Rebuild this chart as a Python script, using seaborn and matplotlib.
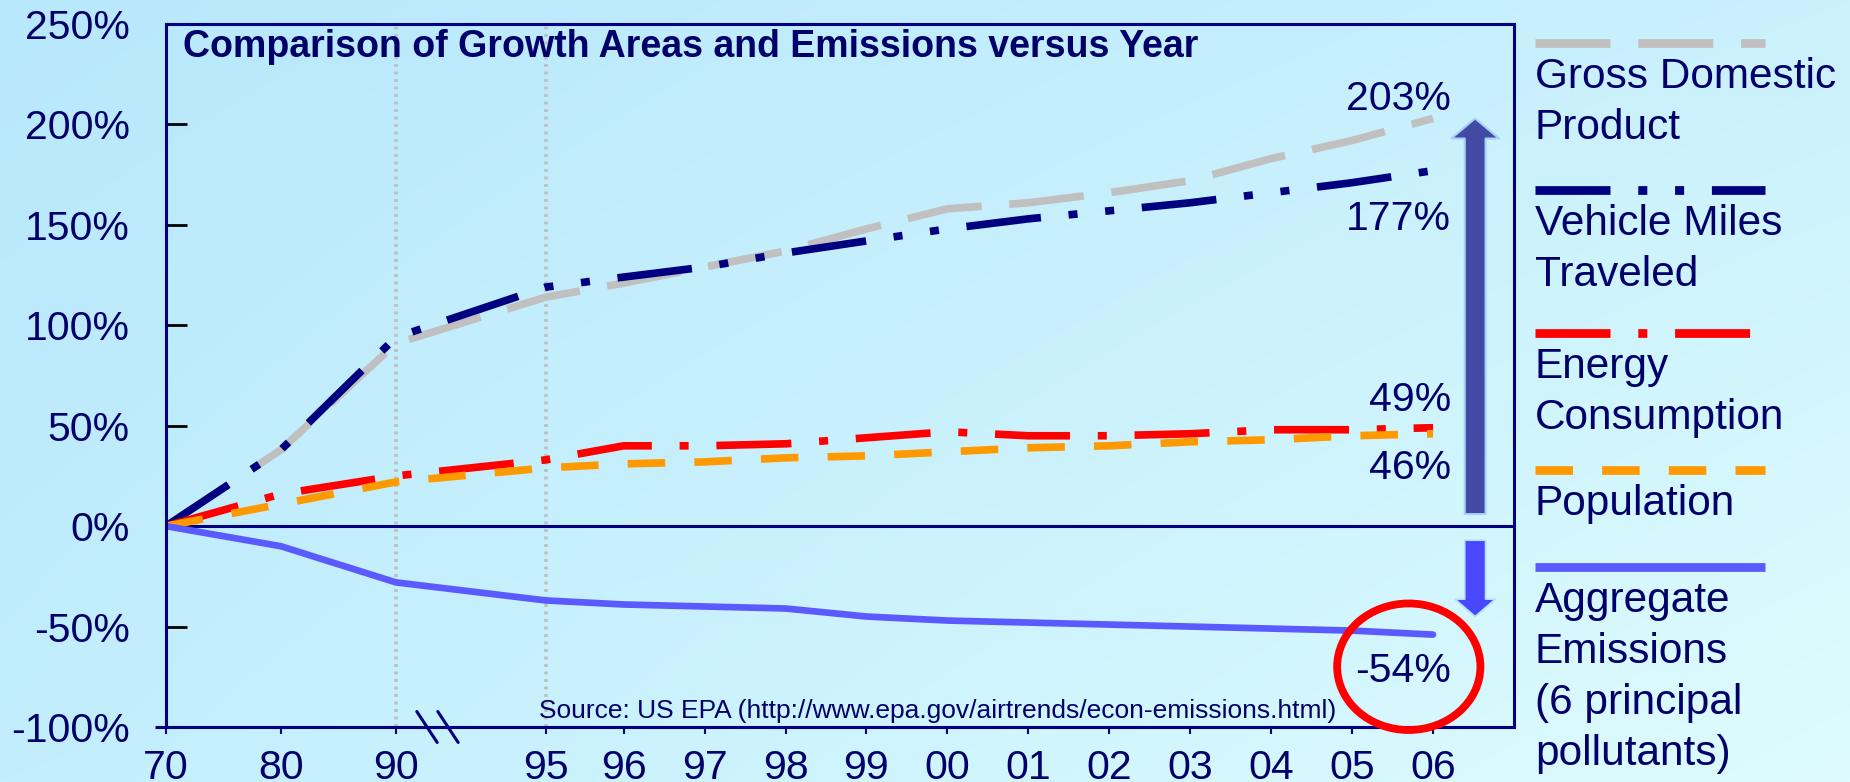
import numpy as np
import pandas as pd
import matplotlib
matplotlib.use("Agg")
import matplotlib.pyplot as plt
import seaborn as sns
from matplotlib.lines import Line2D
from matplotlib.patches import Ellipse, FancyArrowPatch, ArrowStyle
import matplotlib.transforms as mtransforms

# ---- data (percent change since 1970) ----
years = [1970, 1980, 1990, 1995, 1996, 1997, 1998, 1999, 2000,
         2001, 2002, 2003, 2004, 2005, 2006]
gdp = [0, 38, 91, 114, 121, 129, 137, 148, 158, 161, 166, 172, 183, 192, 203]
vmt = [0, 38, 94, 119, 124, 129, 136, 142, 148, 153, 157, 161, 166, 171, 177]
energy = [0, 16, 25, 33, 40, 40, 41, 44, 47, 45, 45, 46, 48, 48, 49]
population = [0, 11, 22, 29, 31, 32, 34, 35, 37, 39, 40, 42, 43, 45, 46]
emissions = [0, -10, -28, -37, -39, -40, -41, -45, -47, -48, -49, -50, -51, -52, -54]

series_names = ["Gross Domestic Product", "Vehicle Miles Traveled",
                "Energy Consumption", "Population", "Aggregate Emissions"]
legend_labels = [["Gross Domestic", "Product"],
                 ["Vehicle Miles", "Traveled"],
                 ["Energy", "Consumption"],
                 ["Population"],
                 ["Aggregate", "Emissions", "(6 principal", "pollutants)"]]
y_ticks = [-100, -50, 0, 50, 100, 150, 200, 250]
title = "Comparison of Growth Areas and Emissions versus Year"
source = "Source: US EPA (http://www.epa.gov/airtrends/econ-emissions.html)"

# ---- styles ----
navy = "#000080"
text_color = "#00006a"
colors = {series_names[0]: "#c0c0c0", series_names[1]: "#000080",
          series_names[2]: "#ff0000", series_names[3]: "#ff9900",
          series_names[4]: "#5a5aff"}
dashes = {series_names[0]: (54, 20),
          series_names[1]: (54, 20, 6.5, 20, 6.5, 20),
          series_names[2]: (54, 20, 6.5, 20),
          series_names[3]: (27, 21),
          series_names[4]: ""}

sns.set_style("white")
plt.rcParams["font.family"] = ["Liberation Sans", "DejaVu Sans"]
plt.rcParams["lines.scale_dashes"] = False

W, H = 1850, 782
fig = plt.figure(figsize=(W / 100, H / 100), dpi=100)

# soft diagonal background gradient
tl, tr = np.array([184, 232, 252]), np.array([202, 241, 252])
bl, br = np.array([194, 238, 253]), np.array([222, 252, 254])
gx = np.linspace(0, 1, 400)[None, :, None]
gy = np.linspace(0, 1, 200)[:, None, None]
grad = (tl * (1 - gx) * (1 - gy) + tr * gx * (1 - gy)
        + bl * (1 - gx) * gy + br * gx * gy) / 255.0
bg = fig.add_axes([0, 0, 1, 1], zorder=-10)
bg.imshow(grad, aspect="auto", extent=[0, 1, 0, 1], interpolation="bilinear")
bg.axis("off")

ax = fig.add_axes([166 / W, 1 - 727 / H, (1514 - 166) / W, (727 - 24) / H])
ax.patch.set_alpha(0)

# broken year axis: compressed 1970-1990, gap to 1995, then annual spacing
knot_years = np.array([1900, 1970, 1990, 1995, 1996, 2006, 2100], float)
knot_pos = np.array([-805, 0, 230, 380, 458, 1268, 8882], float)
ax.set_xscale("function",
              functions=(lambda v: np.interp(v, knot_years, knot_pos),
                         lambda p: np.interp(p, knot_pos, knot_years)))
ax.set_xlim(1970, 2007)
ax.set_ylim(-100, 250)

for yr in (1990, 1995):
    ax.axvline(yr, color="#c0c0c0", lw=2.6, linestyle=(0, (2.2, 3.2)), zorder=1)
ax.axhline(0, color=navy, lw=2.2, zorder=1.5)

df = pd.DataFrame({
    "year": years * 5,
    "series": sum([[n] * len(years) for n in series_names], []),
    "change": gdp + vmt + energy + population + emissions,
})
sns.lineplot(data=df, x="year", y="change", hue="series", style="series",
             hue_order=series_names, style_order=series_names,
             palette=colors, dashes=dashes, linewidth=5.5,
             estimator=None, sort=False, legend=False, ax=ax)
ax.get_lines()[-1].set_linewidth(4.8)

# axes styling
for s in ax.spines.values():
    s.set_color(navy)
    s.set_linewidth(2.2)
ax.set_xlabel("")
ax.set_ylabel("")
ax.set_xticks(years)
ax.set_xticklabels([f"{y % 100:02d}" for y in years])
ax.set_yticks(y_ticks)
ax.set_yticklabels([f"{v}%" for v in y_ticks])
ax.tick_params(axis="y", direction="in", length=15, width=2, color="black",
               pad=26, labelsize=29.5, labelcolor=text_color, left=True)
ax.tick_params(axis="x", direction="out", length=5, width=1.5, color=navy,
               pad=11, labelsize=29.5, labelcolor=text_color, bottom=True)
ax.plot([-0.008, 0], [0, 0], transform=ax.transAxes, color=navy, lw=2.2,
        clip_on=False, solid_capstyle="butt")

# axis break marks between 1990 and 1995
brk = mtransforms.blended_transform_factory(ax.transData, ax.transAxes)
for x0 in (1990.7, 1991.4):
    ax.plot([x0, x0 + 0.68], [0.022, -0.022], transform=brk, color=navy,
            lw=2.2, clip_on=False)

ax.text(0.0126, 0.953, title, transform=ax.transAxes, fontsize=27,
        fontweight="bold", color=text_color, ha="left", va="baseline")
ax.text(0.2767, 0.0128, source, transform=ax.transAxes, fontsize=19,
        color=text_color, ha="left", va="baseline")

# end-of-period value labels
last = [gdp[-1], vmt[-1], energy[-1], population[-1], emissions[-1]]
offsets = [6, -43, 12, -32.5, -34]
for val, dy in zip(last, offsets):
    ax.annotate(f"{val}%", xy=(years[-1], val), xytext=(13, dy),
                textcoords="offset points", ha="right", va="baseline",
                fontsize=29.5, color=text_color)

# growth / decline arrows
xa = years[-1] + 0.52
up = FancyArrowPatch((xa, 6), (xa, gdp[-1]),
                     arrowstyle=ArrowStyle.Simple(head_length=14.5, head_width=34.5, tail_width=15),
                     mutation_scale=1, shrinkA=0, shrinkB=0,
                     fc="#424aa3", ec="#a6d2fa", lw=1.5, zorder=5)
down = FancyArrowPatch((xa, -7), (xa, -45),
                       arrowstyle=ArrowStyle.Simple(head_length=12.5, head_width=29, tail_width=15),
                       mutation_scale=1, shrinkA=0, shrinkB=0,
                       fc="#4848ff", ec="#b8e0fc", lw=1.2, zorder=5)
ax.add_patch(up)
ax.add_patch(down)

ring = Ellipse((years[-1] - 0.3, emissions[-1] - 16), width=1.77, height=63,
               fill=False, ec="#ff0000", lw=5.6, clip_on=False, zorder=6)
ax.add_patch(ring)

# legend: sample line above each wrapped label
handle_y = [43, 190, 333, 470, 567]
for name, lines, hy in zip(series_names, legend_labels, handle_y):
    ls = "-" if dashes[name] == "" else (0, dashes[name])
    fig.add_artist(Line2D([1535 / W, 1765 / W], [1 - hy / H, 1 - hy / H],
                          color=colors[name], lw=6.3, linestyle=ls,
                          solid_capstyle="butt", dash_capstyle="butt"))
    for i, line in enumerate(lines):
        fig.text(1535 / W, 1 - (hy + 45 + 51 * i) / H, line, fontsize=30.5,
                 color=text_color, ha="left", va="baseline")

fig.savefig("out.png", dpi=100)
